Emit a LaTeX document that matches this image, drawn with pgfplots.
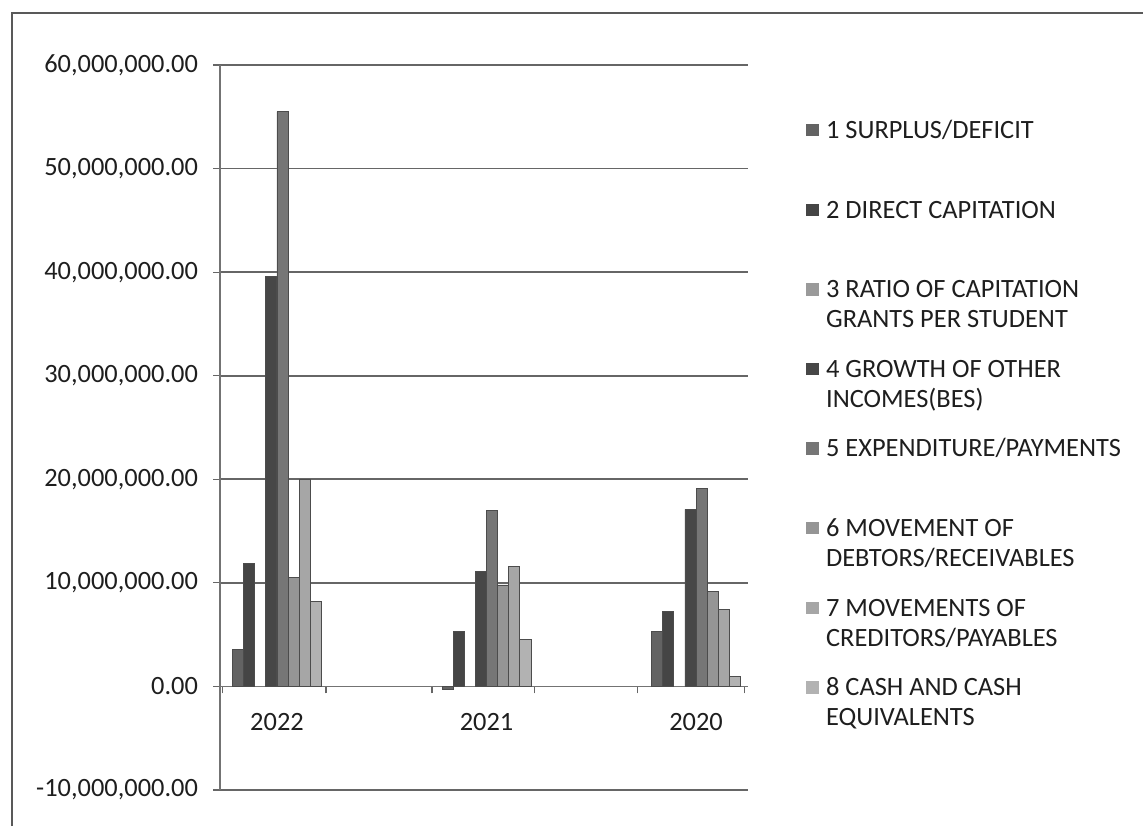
\documentclass[border=0pt]{standalone}
\usepackage{fontspec}
\setmainfont{Carlito}
\usepackage{pgfplots}
\pgfplotsset{compat=1.18}
\definecolor{c1}{HTML}{636363}
\definecolor{c2}{HTML}{454545}
\definecolor{c3}{HTML}{9A9A9A}
\definecolor{c4}{HTML}{474747}
\definecolor{c5}{HTML}{767676}
\definecolor{c6}{HTML}{959595}
\definecolor{c7}{HTML}{A6A6A6}
\definecolor{c8}{HTML}{B2B2B2}
\definecolor{txt}{HTML}{1E1E1E}
\newcommand{\lfont}{\fontsize{13.2}{15}\selectfont}
\newcommand{\lent}[1]{\parbox[t]{165pt}{\raggedright #1}}
\begin{document}
\begin{tikzpicture}
\useasboundingbox (0,0) rectangle (571.5pt,413pt);
\fill[white] (0,0) rectangle (571.5pt,413pt);
\draw[black!65, line width=0.6pt] (6pt,0) -- (6pt,406.5pt) -- (571.5pt,406.5pt);
\begin{axis}[
  at={(110pt,18pt)}, anchor=south west,
  scale only axis, width=264pt, height=362.5pt,
  xmin=-0.272, xmax=2.248,
  ymin=-10000000, ymax=60000000,
  ytick={-10000000,0,10000000,20000000,30000000,40000000,50000000,60000000},
  scaled y ticks=false,
  yticklabel style={xshift=-4pt, /pgf/number format/.cd, fixed, fixed zerofill, precision=2, 1000 sep={,}},
  /pgf/number format/assume math mode=true,
  axis x line=middle, axis y line=left,
  axis line style={-, black!55, line width=0.8pt},
  hide obscured x ticks=false, hide obscured y ticks=false,
  ymajorgrids, major grid style={black!60, line width=0.8pt},
  tick align=outside, major tick length=3.5pt,
  tick style={black!60, line width=0.6pt},
  xtick={-0.26,0.234,0.74,1.23,1.72,2.23},
  xticklabels={},
  extra x ticks={0,1,2},
  extra x tick labels={2022,2021,2020},
  extra x tick style={major tick length=0pt, grid=none, tick label style={yshift=-10pt}},
  tick label style={font=\lfont, text=txt},
  ybar, bar width=0.053,
  legend style={at={(1.11,0.924)}, anchor=north west, draw=none, fill=none,
    inner sep=0pt, outer sep=0pt, row sep=0pt, font=\lfont, text=txt,
    nodes={inner sep=0pt, outer sep=0pt, text height=9.2pt, text depth=30.6pt},
    /tikz/every odd column/.append style={column sep=3.5pt}},
  legend cell align=left,
  legend image code/.code={\fill[#1, draw=none] (0pt,11.8pt) rectangle (6.5pt,18pt);},
]
\addplot[fill=c1, draw=black!70, line width=0.4pt, bar shift=-0.1855] coordinates {(0,3600000) (1,-300000) (2,5300000)};
\addlegendentry{\lent{1 SURPLUS/DEFICIT}}
\addplot[fill=c2, draw=black!70, line width=0.4pt, bar shift=-0.1325] coordinates {(0,11900000) (1,5300000) (2,7200000)};
\addlegendentry{\lent{2 DIRECT CAPITATION}}
\addplot[fill=c3, draw=none, bar shift=-0.0795] coordinates {(0,0) (1,0) (2,0)};
\addlegendentry{\lent{3 RATIO OF CAPITATION\\GRANTS PER STUDENT}}
\addplot[fill=c4, draw=black!70, line width=0.4pt, bar shift=-0.0265] coordinates {(0,39600000) (1,11100000) (2,17100000)};
\addlegendentry{\lent{4 GROWTH OF OTHER\\INCOMES(BES)}}
\addplot[fill=c5, draw=black!70, line width=0.4pt, bar shift=0.0265] coordinates {(0,55500000) (1,17000000) (2,19100000)};
\addlegendentry{\lent{5 EXPENDITURE/PAYMENTS}}
\addplot[fill=c6, draw=black!70, line width=0.4pt, bar shift=0.0795] coordinates {(0,10500000) (1,9800000) (2,9200000)};
\addlegendentry{\lent{6 MOVEMENT OF\\DEBTORS/RECEIVABLES}}
\addplot[fill=c7, draw=black!70, line width=0.4pt, bar shift=0.1325] coordinates {(0,20000000) (1,11600000) (2,7400000)};
\addlegendentry{\lent{7 MOVEMENTS OF\\CREDITORS/PAYABLES}}
\addplot[fill=c8, draw=black!70, line width=0.4pt, bar shift=0.1855] coordinates {(0,8200000) (1,4500000) (2,1000000)};
\addlegendentry{\lent{8 CASH AND CASH\\EQUIVALENTS}}
\end{axis}
\end{tikzpicture}
\end{document}
